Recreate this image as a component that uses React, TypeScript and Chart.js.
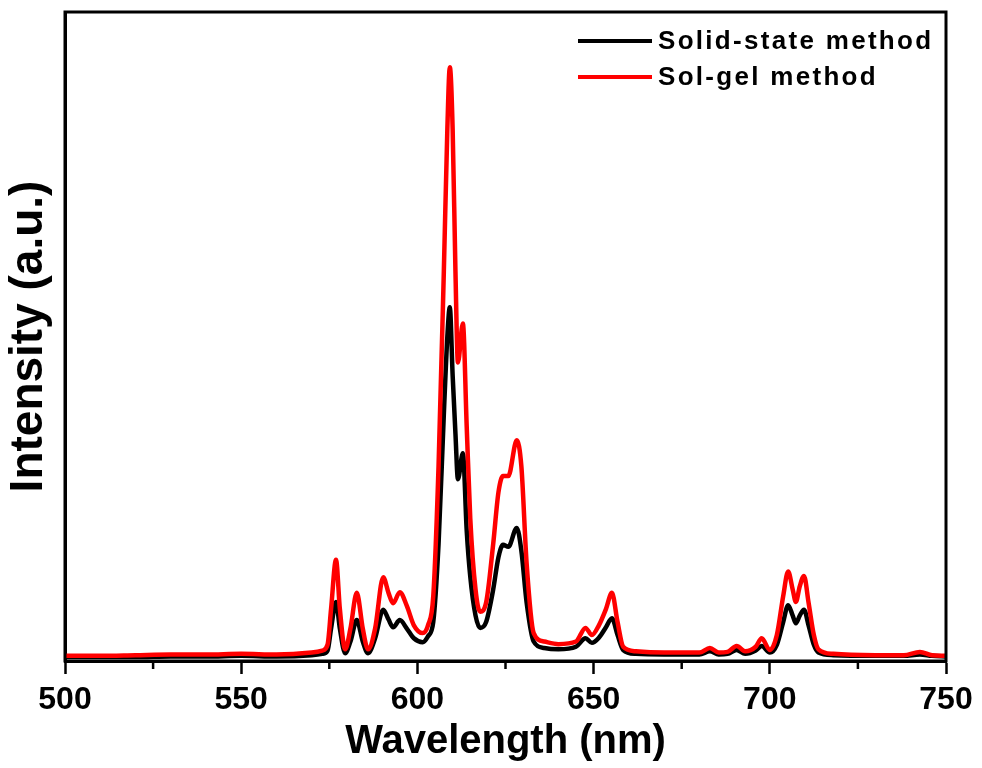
import React, { useEffect, useRef } from "react";
import { Chart, registerables } from "chart.js";

Chart.register(...registerables);

const wavelengths = [
  500, 510, 520, 530, 540, 550, 560, 570, 573, 574.5, 575.5, 576.9, 578, 579.5, 581, 582.8, 584.5, 586, 588,
  590.3, 591.8, 593.1, 595, 597, 599, 601.5, 603, 604.5, 606, 607.5, 608.5, 609.2, 610, 610.8, 611.5, 612.9,
  614, 615, 616.5, 617.8, 619.5, 621.5, 623, 624.3, 625.8, 628.2, 629.5, 631, 633, 636, 640, 645, 647.7,
  649.5, 651.5, 653.5, 655.2, 656.8, 658.4, 662, 670, 680, 683, 685.5, 688, 690.6, 693, 696, 697.7, 700,
  702, 703.8, 705.2, 706.5, 707.4, 708.5, 709.7, 711, 712.5, 713.8, 718, 730, 738, 742.6, 746, 750,
];

const solidState = [
  0.6, 0.6, 0.6, 0.7, 0.7, 0.8, 0.7, 0.9, 1.1, 1.6, 5, 9.1, 5, 1.2, 3, 6.3, 3, 1.2, 3.5,
  7.9, 6.4, 5.2, 6.3, 5, 3.5, 2.9, 3.8, 6, 18, 38, 50, 54.5, 44, 35, 28, 32,
  20, 13, 7, 5.1, 6, 11, 16, 17.9, 17.6, 20.5, 17, 9, 3, 2, 1.8, 2.2, 3.5,
  2.8, 3.6, 5.2, 6.6, 4, 1.7, 1.1, 1.0, 1.0, 1.5, 1.0, 1.1, 1.7, 1.1, 1.6, 2.3, 1.3,
  2.5, 6, 8.6, 7, 5.8, 7, 7.9, 5.5, 2.5, 1.3, 0.9, 0.8, 0.8, 1.0, 0.8, 0.7,
];

const solGel = [
  0.8, 0.8, 0.9, 1.0, 1.0, 1.1, 1.0, 1.3, 1.6, 2.5, 8, 15.6, 8, 1.8, 5, 10.5, 5, 1.8, 5,
  12.9, 10.5, 8.9, 10.6, 8.5, 5.5, 4.3, 5.5, 10, 30, 60, 82, 91.5, 82, 60, 46, 52,
  36, 22, 11, 7.6, 9, 18, 26, 28.5, 28.5, 34, 30, 15, 4.3, 3, 2.6, 3.0, 5.1,
  4, 5.5, 8, 10.5, 6, 2.2, 1.5, 1.3, 1.3, 2.0, 1.3, 1.4, 2.3, 1.5, 2.2, 3.5, 1.7,
  4, 10, 13.8, 11, 9.1, 11.5, 13.1, 9, 4, 1.8, 1.1, 0.9, 0.9, 1.4, 0.9, 0.8,
];

const seriesLabels = ["Solid-state method", "Sol-gel method"];
const seriesColors = ["#000000", "#ff0000"];
const majorTicks = [500, 550, 600, 650, 700, 750];
const minorTicks = [525, 575, 625, 675, 725];

const FONT = "'Liberation Sans', Arial, sans-serif";

const framePlugin = {
  id: "frame",
  afterDatasetsDraw(chart: any) {
    const { ctx, chartArea } = chart;
    const xs = chart.scales.x;
    ctx.save();
    ctx.strokeStyle = "#000";
    ctx.lineWidth = 3;
    ctx.strokeRect(chartArea.left, chartArea.top, chartArea.right - chartArea.left, chartArea.bottom - chartArea.top);
    ctx.lineWidth = 2.5;
    minorTicks.forEach((v) => {
      const px = xs.getPixelForValue(v);
      ctx.beginPath();
      ctx.moveTo(px, chartArea.bottom);
      ctx.lineTo(px, chartArea.bottom + 8);
      ctx.stroke();
    });
    // legend
    const rows = [41, 77];
    ctx.font = `bold 26px ${FONT}`;
    (ctx as any).letterSpacing = "2.3px";
    ctx.textBaseline = "middle";
    ctx.textAlign = "left";
    chart.data.datasets.forEach((ds: any, i: number) => {
      const y = rows[i];
      ctx.strokeStyle = ds.borderColor;
      ctx.lineWidth = 4;
      ctx.beginPath();
      ctx.moveTo(578, y);
      ctx.lineTo(652, y);
      ctx.stroke();
      ctx.fillStyle = "#000";
      ctx.fillText(ds.label, 658, y + 1);
    });
    ctx.restore();
  },
};

export default function App() {
  const ref = useRef<HTMLCanvasElement | null>(null);
  useEffect(() => {
    if (!ref.current) return;
    const chart = new Chart(ref.current, {
      type: "line",
      data: {
        datasets: [
          {
            label: seriesLabels[0],
            data: wavelengths.map((x, i) => ({ x, y: solidState[i] })),
            borderColor: seriesColors[0],
            borderWidth: 4.5,
            pointRadius: 0,
            cubicInterpolationMode: "monotone",
            order: 1,
          },
          {
            label: seriesLabels[1],
            data: wavelengths.map((x, i) => ({ x, y: solGel[i] })),
            borderColor: seriesColors[1],
            borderWidth: 4.5,
            pointRadius: 0,
            cubicInterpolationMode: "monotone",
            order: 0,
          },
        ],
      },
      options: {
        responsive: false,
        animation: false,
        layout: { padding: { top: 12, right: 36, left: 0, bottom: 0 } },
        plugins: { legend: { display: false }, tooltip: { enabled: false } },
        scales: {
          x: {
            type: "linear",
            min: 500,
            max: 750,
            afterBuildTicks: (scale: any) => {
              scale.ticks = majorTicks.map((v) => ({ value: v }));
            },
            afterFit: (scale: any) => {
              scale.height = 107;
            },
            ticks: {
              color: "#000",
              font: { family: FONT, size: 32, weight: "bold" },
              padding: 7,
              maxRotation: 0,
              autoSkip: false,
            },
            grid: {
              drawOnChartArea: false,
              drawTicks: true,
              tickLength: 13,
              tickWidth: 2.5,
              tickColor: "#000",
            },
            border: { display: true, color: "#000", width: 3 },
            title: {
              display: true,
              text: "Wavelength (nm)",
              color: "#000",
              font: { family: FONT, size: 40, weight: "bold" },
              padding: { top: 0, bottom: 2 },
            },
          },
          y: {
            min: 0,
            max: 100,
            afterFit: (scale: any) => {
              scale.width = 65;
            },
            ticks: { display: false },
            grid: { display: false, drawTicks: false },
            border: { display: true, color: "#000", width: 3 },
            title: {
              display: true,
              text: "Intensity (a.u.)",
              color: "#000",
              font: { family: FONT, size: 46, weight: "bold" },
              padding: { top: 2, bottom: 0 },
            },
          },
        },
      },
      plugins: [framePlugin],
    } as any);
    return () => chart.destroy();
  }, []);
  return (
    <div style={{ position: "fixed", left: 0, top: 0, width: 982, height: 768, background: "#fff" }}>
      <canvas ref={ref} width={982} height={768} style={{ width: 982, height: 768 }} />
    </div>
  );
}
